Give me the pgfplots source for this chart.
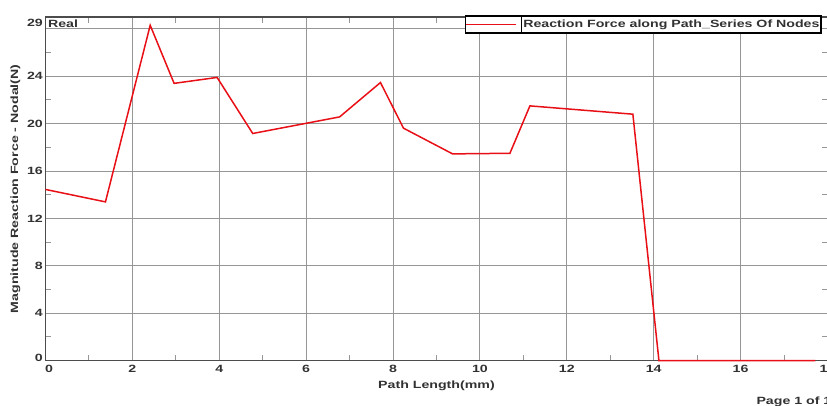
\documentclass[border=0pt]{standalone}
\usepackage{fontspec}
\setmainfont{Liberation Sans}[FakeStretch=1.35]
\usepackage{pgfplots}
\pgfplotsset{compat=1.18}
\definecolor{txt}{RGB}{50,50,50}
\definecolor{gridc}{RGB}{150,150,150}
\definecolor{linered}{RGB}{232,16,22}
\begin{document}
\fontsize{10.5pt}{12pt}\selectfont\bfseries
\begin{tikzpicture}[x=1pt,y=1pt]
\useasboundingbox (-45.5,-45.3) rectangle (781.5,360.7);
\begin{axis}[
  at={(0,0)}, anchor=south west,
  scale only axis, width=782pt, height=343.7pt,
  xmin=0, xmax=18, ymin=0, ymax=29,
  xtick={0,2,...,18},
  xticklabels={\makebox[0pt][l]{\hspace{-0.5pt}0},2,4,6,8,10,12,14,16,\makebox[0pt][l]{\hspace{-8pt}18}},
  ytick={0,4,...,28,29},
  yticklabels={\raisebox{3pt}[\height][\depth]{0},4,8,12,16,20,24,{},\raisebox{-6pt}[\height][\depth]{29}},
  minor xtick={1,3,...,17},
  minor ytick={2,6,...,26},
  major tick length=0pt,
  minor tick length=6pt,
  tick align=inside,
  tick style={gridc, line width=1pt},
  grid=major,
  major grid style={gridc, line width=0.9pt},
  axis line style={black!70, line width=1.2pt},
  /pgf/number format/assume math mode=true,
  tick label style={font=\fontsize{10.5pt}{12pt}\selectfont\bfseries, text=txt},
  xticklabel style={yshift=-1pt},
  yticklabel style={xshift=1pt},
  xlabel={Path Length(mm)},
  ylabel={Magnitude Reaction Force - Nodal(N)},
  label style={font=\fontsize{10.5pt}{12pt}\selectfont\bfseries, text=txt},
  xlabel style={at={(rel axis cs:0.5,0)}, anchor=north, yshift=-16pt},
  ylabel style={at={(rel axis cs:-0.0385,0.5)}, anchor=center},
  legend style={at={(rel axis cs:0.9917,1.003)}, anchor=north east,
    draw=black, line width=1.3pt, fill=white, inner sep=0pt, outer sep=0pt,
    font=\fontsize{10.5pt}{12pt}\selectfont\bfseries, text=txt,
    nodes={inner sep=1.5pt}},
  legend cell align=left,
  legend image code/.code={
    \draw[#1] (-3pt,0pt) -- (47pt,0pt);
    \draw[black, line width=1pt] (52pt,-8pt) -- (52pt,8pt);
  },
  clip=false,
]
\addplot[linered, line width=1.5pt] coordinates {
  (0,14.45) (1.38,13.4) (2.41,28.3) (2.96,23.4) (3.95,23.9) (4.77,19.17)
  (6.77,20.57) (7.71,23.47) (8.24,19.62) (9.37,17.45) (10.69,17.5)
  (11.15,21.5) (13.52,20.8) (14.12,0) (17.72,0)
};
\addlegendentry{Reaction Force along Path\_Series Of Nodes}
\node[anchor=north west, text=txt, inner sep=0pt] at (rel axis cs:0.003,0.992) {Real};
\node[anchor=north west, text=txt, inner sep=0pt] at (rel axis cs:0.909,-0.105) {Page 1 of 1};
\end{axis}
\end{tikzpicture}
\end{document}
